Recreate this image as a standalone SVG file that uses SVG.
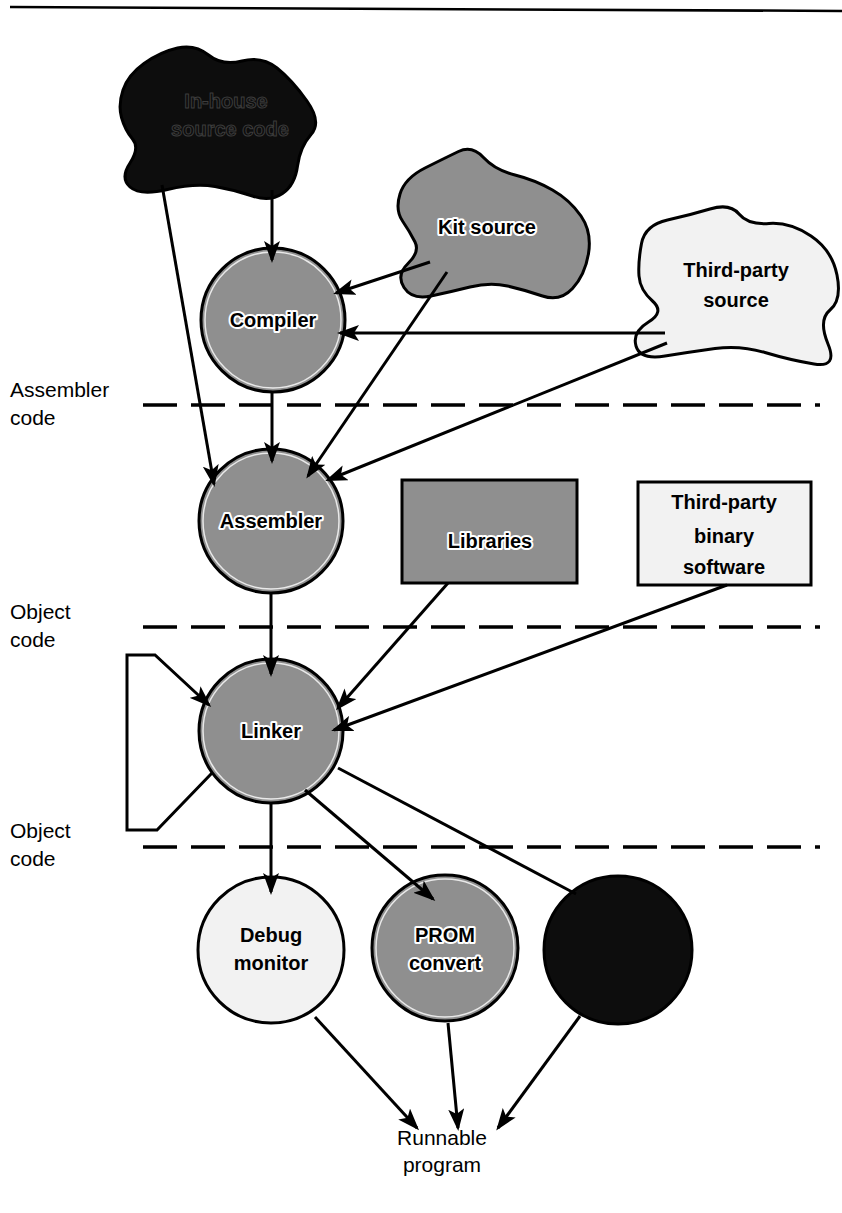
<svg xmlns="http://www.w3.org/2000/svg" width="842" height="1213" viewBox="0 0 842 1213">
  <style>
    .edge { fill: none; stroke: #000; stroke-width: 3; }
    .arrow { marker-end: url(#ah); }
    .dash { fill: none; stroke: #000; stroke-width: 3.5; stroke-dasharray: 34 14; }
    .outline { stroke: #000; stroke-width: 3; }
    .mid { fill: #8f8f8f; }
    .light { fill: #f2f2f2; }
    .dark { fill: #0d0d0d; }
    .ring { fill: none; stroke: #fff; stroke-width: 1.5; opacity: 0.8; }
    .lbl { font-family: "Liberation Sans", Arial, sans-serif; font-size: 20px; font-weight: bold; text-anchor: middle; fill: #000; }
    .halo { stroke: #fff; stroke-width: 4; paint-order: stroke; stroke-linejoin: round; }
    .side { font-family: "Liberation Sans", Arial, sans-serif; font-size: 21px; fill: #000; }
    .hidden { fill: #0d0d0d; stroke: #3c3c3c; stroke-width: 1; }
  </style>
  <defs>
    <marker id="ah" markerWidth="22" markerHeight="16" refX="19" refY="8" orient="auto" markerUnits="userSpaceOnUse">
      <path d="M0,0 L22,8 L0,16 L5,8 z" fill="#000"/>
    </marker>
  </defs>

  <rect width="842" height="1213" fill="#fff"/>

  <!-- page rule -->
  <line x1="10" y1="7" x2="842" y2="11" stroke="#000" stroke-width="2.5"/>

  <!-- stage separators -->
  <g id="separators">
    <line class="dash" x1="143" y1="405" x2="820" y2="405"/>
    <line class="dash" x1="143" y1="627" x2="820" y2="627"/>
    <line class="dash" x1="143" y1="847" x2="820" y2="847"/>
  </g>

  <!-- stage labels -->
  <g id="stage-labels">
    <text class="side" x="10" y="397">Assembler</text>
    <text class="side" x="10" y="425">code</text>
    <text class="side" x="10" y="619">Object</text>
    <text class="side" x="10" y="647">code</text>
    <text class="side" x="10" y="838">Object</text>
    <text class="side" x="10" y="866">code</text>
  </g>

  <!-- sources -->
  <g id="inhouse-source">
    <path class="dark outline" d="M121.5,117.5 Q118,105 123,90 Q128,75 144,63.5 Q160,52 177.5,48 Q195,44 208.5,55 Q222,66 242,61 Q262,56 277,68 Q292,80 307,101 Q322,122 311,134.5 Q300,147 297.5,166 Q295,185 282.5,193.5 Q270,202 252.5,196 Q235,190 215,186.5 Q195,183 167.5,189.5 Q140,196 130,187 Q120,178 130,163 Q140,148 132.5,139 Q125,130 121.5,117.5 Z"/>
    <text class="lbl hidden" x="226" y="108">In-house</text>
    <text class="lbl hidden" x="230" y="136">source code</text>
  </g>

  <g id="kit-source">
    <path class="mid outline" d="M402.5,221 Q395,210 400,194 Q405,178 425,168 Q445,158 458.5,151.5 Q472,145 483.5,157.5 Q495,170 515,175 Q535,180 552.5,190 Q570,200 581,216 Q592,232 588.5,253.5 Q585,275 572.5,288.5 Q560,302 542.5,296 Q525,290 507.5,286 Q490,282 470,287 Q450,292 431,296 Q412,300 404,287.5 Q396,275 408,263.5 Q420,252 415,242 Q410,232 402.5,221 Z"/>
    <text class="lbl halo" x="487" y="234">Kit source</text>
  </g>

  <g id="thirdparty-source">
    <path class="light outline" d="M639,276 Q638,262 641.5,243.5 Q645,225 667.5,220 Q690,215 710,209 Q730,203 739,214 Q748,225 769,223.5 Q790,222 811,236 Q832,250 837,275 Q842,300 830,310 Q818,320 828,344 Q838,368 814,364 Q790,360 765,352.5 Q740,345 715,348.5 Q690,352 665,356 Q640,360 636,346 Q632,332 648.5,322 Q665,312 652.5,301 Q640,290 639,276 Z"/>
    <text class="lbl" x="736" y="277">Third-party</text>
    <text class="lbl" x="736" y="307">source</text>
  </g>

  <!-- tools -->
  <g id="compiler">
    <circle class="mid outline" cx="273" cy="320" r="72"/>
    <circle class="ring" cx="273" cy="320" r="68"/>
    <text class="lbl halo" x="273" y="327">Compiler</text>
  </g>

  <g id="assembler">
    <circle class="mid outline" cx="271" cy="521" r="72"/>
    <circle class="ring" cx="271" cy="521" r="68"/>
    <text class="lbl halo" x="271" y="528">Assembler</text>
  </g>

  <g id="libraries">
    <rect class="mid outline" x="402" y="480" width="175" height="103"/>
    <text class="lbl halo" x="490" y="548">Libraries</text>
  </g>

  <g id="thirdparty-binary">
    <rect class="light outline" x="638" y="482" width="173" height="103"/>
    <text class="lbl" x="724" y="509">Third-party</text>
    <text class="lbl" x="724" y="543">binary</text>
    <text class="lbl" x="724" y="574">software</text>
  </g>

  <g id="linker">
    <circle class="mid outline" cx="271" cy="731" r="72"/>
    <circle class="ring" cx="271" cy="731" r="68"/>
    <text class="lbl halo" x="271" y="738">Linker</text>
  </g>

  <!-- targets -->
  <g id="debug-monitor">
    <circle class="light outline" cx="271" cy="950" r="73"/>
    <text class="lbl" x="271" y="942">Debug</text>
    <text class="lbl" x="271" y="970">monitor</text>
  </g>

  <g id="prom-convert">
    <circle class="mid outline" cx="445" cy="948" r="73"/>
    <circle class="ring" cx="445" cy="948" r="69"/>
    <text class="lbl halo" x="445" y="942">PROM</text>
    <text class="lbl halo" x="445" y="970">convert</text>
  </g>

  <g id="dark-target">
    <circle class="dark outline" cx="618" cy="950" r="74"/>
  </g>

  <g id="runnable-program">
    <text class="side" x="442" y="1145" text-anchor="middle" font-size="20">Runnable</text>
    <text class="side" x="442" y="1172" text-anchor="middle" font-size="20">program</text>
  </g>

  <!-- connectors, drawn over the nodes so the heads sit just inside them -->
  <g id="connectors">
    <line class="edge arrow" x1="272" y1="190" x2="272" y2="260"/>
    <line class="edge arrow" x1="162" y1="185" x2="214" y2="484"/>
    <line class="edge arrow" x1="430" y1="262" x2="336" y2="293"/>
    <line class="edge arrow" x1="447" y1="272" x2="308" y2="476"/>
    <line class="edge arrow" x1="665" y1="333" x2="340" y2="333"/>
    <line class="edge arrow" x1="667" y1="343" x2="328" y2="480"/>
    <line class="edge arrow" x1="272" y1="392" x2="272" y2="461"/>
    <line class="edge arrow" x1="271" y1="593" x2="271" y2="674"/>
    <line class="edge arrow" x1="448" y1="583" x2="338" y2="708"/>
    <line class="edge arrow" x1="727" y1="585" x2="334" y2="730"/>
    <path class="edge arrow" d="M212,773 L157,830 L127,830 L127,655 L155,655 L209,705"/>
    <line class="edge arrow" x1="271" y1="802" x2="271" y2="892"/>
    <line class="edge arrow" x1="305" y1="790" x2="433" y2="899"/>
    <line class="edge" x1="338" y1="768" x2="576" y2="894"/>
    <line class="edge arrow" x1="315" y1="1017" x2="417" y2="1128"/>
    <line class="edge arrow" x1="448" y1="1023" x2="458" y2="1128"/>
    <line class="edge arrow" x1="580" y1="1016" x2="498" y2="1128"/>
  </g>
</svg>
